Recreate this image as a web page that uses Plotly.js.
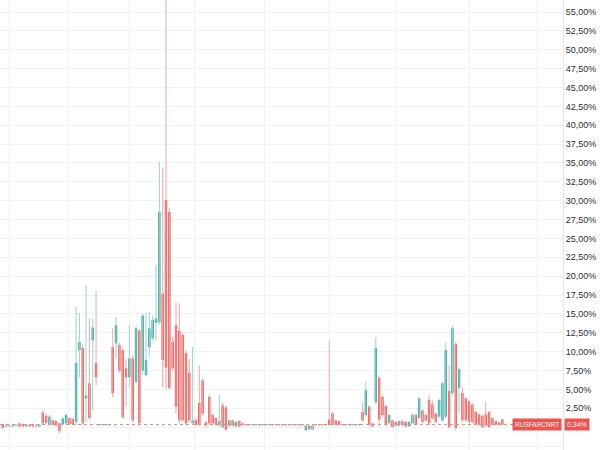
<!DOCTYPE html>
<html>
<head>
<meta charset="utf-8">
<script src="https://cdn.plot.ly/plotly-3.0.1.min.js"></script>
<style>html,body{margin:0;padding:0;background:#fff;}#chart{width:600px;height:450px;}</style>
</head>
<body>
<div id="chart"></div>
<script>
// ---- DATA (values in %) ----
const seriesName = "RUSFARCNRT";
const openVals = [
0.4,0.1,0.2,0.1,0.2,0.5,0.4,0.1,0.3,0.4,
0.1,0.1,1.9,1.5,0.4,0.9,0.8,0.5,0.4,0.5,
1.2,1.1,0.7,10.2,10.5,3.8,5.8,11.5,8.5,0.25,
0.3,0.25,0.3,10.6,11.1,10.9,10.2,7.8,6.6,9.1,
6.0,12.8,7.5,6.9,10.6,11.8,13.8,13.9,17.7,30.1,
28.5,11.3,13.5,12.8,12.2,9.8,7.2,0.5,0.9,3.2,
6.2,0.6,4.0,1.6,1.2,0.3,2.9,2.6,0.2,0.9,
0.1,0.8,0.5,0.3,0.25,0.3,0.25,0.3,0.25,0.3,
0.25,0.3,0.25,0.3,0.25,0.3,0.25,0.3,0.25,0.3,
0.25,-0.4,0.2,-0.3,0.3,0.25,0.3,0.25,1.0,1.8,
0.9,0.8,0.3,0.25,0.3,0.25,0.3,0.25,2.0,1.6,
2.7,0.5,3.3,6.5,4.0,2.8,0.5,0.9,0.7,0.2,
0.8,0.7,0.1,0.5,1.6,1.2,2.2,1.6,3.6,3.0,
1.8,1.4,0.9,1.4,4.8,4.5,11.0,5.2,4.5,3.8,
3.4,3.0,2.0,1.7,1.5,1.7,2.0,1.2,0.8,0.6,
1.0];
const highVals = [
0.5,0.3,0.3,0.3,0.3,0.6,0.5,0.4,0.4,0.5,
0.3,0.4,2.3,1.8,1.6,1.0,0.9,0.6,1.3,1.8,
1.3,1.2,15.9,15.1,11.0,18.8,14.4,14.4,18.1,0.3,
0.35,0.3,0.35,13.1,14.6,11.2,10.5,9.0,13.5,9.5,
13.3,13.0,15.0,15.1,15.3,14.8,21.5,35.1,34.4,60.0,
29.0,12.0,16.6,16.4,12.5,10.2,9.0,10.6,1.2,8.2,
6.5,0.8,4.2,1.8,1.3,4.3,3.2,2.8,1.0,1.0,
0.8,0.9,0.6,0.4,0.35,0.4,0.35,0.4,0.35,0.4,
0.35,0.4,0.35,0.4,0.35,0.4,0.35,0.4,0.35,0.4,
0.35,0.3,0.3,0.3,0.4,0.35,0.4,0.35,11.5,2.0,
1.0,0.9,0.35,0.35,0.35,0.35,0.35,0.35,3.2,6.0,
2.9,0.6,11.9,6.8,4.2,3.0,1.8,1.0,0.8,0.9,
0.9,0.8,0.8,1.8,1.8,4.0,2.4,1.8,4.3,3.5,
1.9,3.8,6.0,11.2,8.2,13.4,11.3,7.9,5.3,4.0,
3.6,3.2,2.2,1.9,1.6,3.4,2.2,1.3,0.9,0.7,
1.1];
const lowVals = [
-0.3,0.0,0.0,0.0,0.1,0.0,0.0,0.0,0.0,0.0,
0.0,0.0,0.3,0.4,0.2,0.2,0.1,-0.8,0.2,0.3,
0.3,0.3,0.2,6.6,0.3,0.7,1.0,2.3,5.5,0.2,
0.2,0.2,0.2,4.0,9.0,7.2,1.1,2.7,5.3,0.7,
5.8,0.3,7.0,6.7,9.3,11.5,11.5,13.5,5.3,5.0,
5.0,7.5,1.8,0.5,0.7,0.3,0.7,0.3,0.1,0.2,
1.5,0.1,0.3,0.3,0.2,0.0,-0.1,-0.5,-0.1,0.1,
0.0,0.0,0.2,0.2,0.2,0.2,0.2,0.2,0.2,0.2,
0.2,0.2,0.2,0.2,0.2,0.2,0.2,0.2,0.2,0.2,
0.2,-0.5,-0.4,-0.4,0.2,0.2,0.2,0.2,0.2,0.2,
0.2,0.2,0.2,0.2,0.2,0.2,0.2,0.2,0.7,1.4,
0.2,0.0,3.0,0.2,1.4,0.2,0.4,-0.1,0.1,0.1,
0.2,0.0,0.0,0.4,0.2,1.0,0.5,0.7,0.3,1.0,
0.5,1.2,0.7,1.2,-0.2,4.2,-0.4,1.8,0.7,0.7,
0.5,0.5,0.2,0.2,-0.1,0.0,-0.1,0.2,0.2,0.2,
0.2];
const closeVals = [
-0.1,0.2,0.1,0.2,0.25,0.1,0.1,0.3,0.1,0.1,
0.2,0.3,0.5,0.6,1.4,0.3,0.2,-0.5,1.15,1.6,
0.4,0.4,8.5,11.3,0.5,4.2,1.2,13.2,6.6,0.3,
0.25,0.3,0.25,4.5,13.5,7.5,1.3,6.6,9.1,0.9,
13.1,0.5,14.8,8.9,13.1,14.2,14.4,28.5,8.9,7.9,
5.2,7.8,2.7,0.9,0.9,0.5,0.9,0.9,0.3,0.3,
1.8,0.2,0.5,0.5,0.3,0.8,0.0,-0.3,0.9,0.2,
0.7,0.1,0.3,0.25,0.3,0.25,0.3,0.25,0.3,0.25,
0.3,0.25,0.3,0.25,0.3,0.25,0.3,0.25,0.3,0.25,
0.3,0.2,-0.3,0.2,0.25,0.3,0.25,0.3,0.3,0.3,
0.3,0.3,0.25,0.3,0.25,0.3,0.25,0.3,0.9,4.9,
0.3,0.1,10.5,1.0,1.6,0.3,1.6,0.0,0.2,0.8,
0.3,0.1,0.7,1.6,0.3,3.8,0.7,0.9,0.5,1.2,
0.7,3.6,5.8,10.2,0.0,13.1,-0.1,7.7,0.9,0.9,
0.7,0.7,0.3,0.3,0.0,0.2,0.0,0.3,0.3,0.3,
0.34];
const yTickValues = [-2.5,0,2.5,5,7.5,10,12.5,15,17.5,20,22.5,25,27.5,30,32.5,35,37.5,40,42.5,45,47.5,50,52.5,55];

// ---- BUILD ----
const n = closeVals.length;
const xIdx = closeVals.map((_, i) => i);
const UP = '#26a69a', DOWN = '#ef5350';
const UP_W = '#9ad3cc', DOWN_W = '#f3a7a5';
const fmt = v => v.toFixed(2).replace('.', ',') + '%';
const lastClose = closeVals[n - 1];
const isUp = i => closeVals[i] >= openVals[i];

function wickTrace(up) {
  const xs = [], ys = [];
  xIdx.forEach(i => {
    if (isUp(i) === up) { xs.push(i, i, null); ys.push(lowVals[i], highVals[i], null); }
  });
  return {type: 'scatter', mode: 'lines', x: xs, y: ys, connectgaps: false,
    line: {color: up ? UP_W : DOWN_W, width: 1}, hoverinfo: 'skip', showlegend: false};
}
const bodies = {
  type: 'bar', x: xIdx,
  base: xIdx.map(i => Math.min(openVals[i], closeVals[i])),
  y: xIdx.map(i => Math.max(Math.abs(closeVals[i] - openVals[i]), 0.13)),
  width: 0.72,
  marker: {color: xIdx.map(i => isUp(i) ? UP : DOWN), line: {width: 0}},
  hoverinfo: 'skip', showlegend: false
};

const layout = {
  width: 600, height: 450,
  margin: {l: 0, r: 37, t: 0, b: 0},
  paper_bgcolor: '#ffffff', plot_bgcolor: '#ffffff',
  showlegend: false, barmode: 'overlay',
  font: {family: 'Liberation Sans, Arial, sans-serif', size: 9, color: '#2a2e39'},
  xaxis: {
    range: [-0.84, 168.2],
    tickmode: 'array', tickvals: [2.16, 19.3, 37.9, 57.7, 78.7, 98.0, 118.1, 140.0, 160.4],
    showticklabels: false, ticks: '', showgrid: true, gridcolor: '#f1f2f5', gridwidth: 1,
    zeroline: false, showline: false, fixedrange: true
  },
  yaxis: {
    side: 'right', range: [-3.03, 56.59],
    tickmode: 'array', tickvals: yTickValues,
    ticktext: yTickValues.map(v => v === 0 ? '' : fmt(v)),
    ticks: '', showgrid: true, gridcolor: '#f1f2f5', gridwidth: 1,
    zeroline: false, showline: true, linecolor: '#e4e6eb', linewidth: 1,
    tickfont: {size: 9, color: '#2a2e39'}, fixedrange: true
  },
  shapes: [{
    type: 'line', xref: 'paper', x0: 0, x1: 1, yref: 'y', y0: lastClose, y1: lastClose,
    line: {color: '#e58a88', width: 1, dash: 'dot'}
  }],
  annotations: [
    {xref: 'paper', x: 0.998, xanchor: 'right', yref: 'y', y: lastClose, yanchor: 'middle',
     text: seriesName, showarrow: false, bgcolor: DOWN, borderpad: 2,
     font: {size: 6.5, color: '#ffffff', family: 'Liberation Sans, Arial, sans-serif'}},
    {xref: 'paper', x: 1.002, xanchor: 'left', yref: 'y', y: lastClose, yanchor: 'middle',
     text: fmt(lastClose), showarrow: false, bgcolor: DOWN, borderpad: 2,
     font: {size: 7, color: '#ffffff', family: 'Liberation Sans, Arial, sans-serif'}}
  ]
};

Plotly.newPlot('chart', [wickTrace(true), wickTrace(false), bodies], layout, {displayModeBar: false, staticPlot: true});
</script>
</body>
</html>
